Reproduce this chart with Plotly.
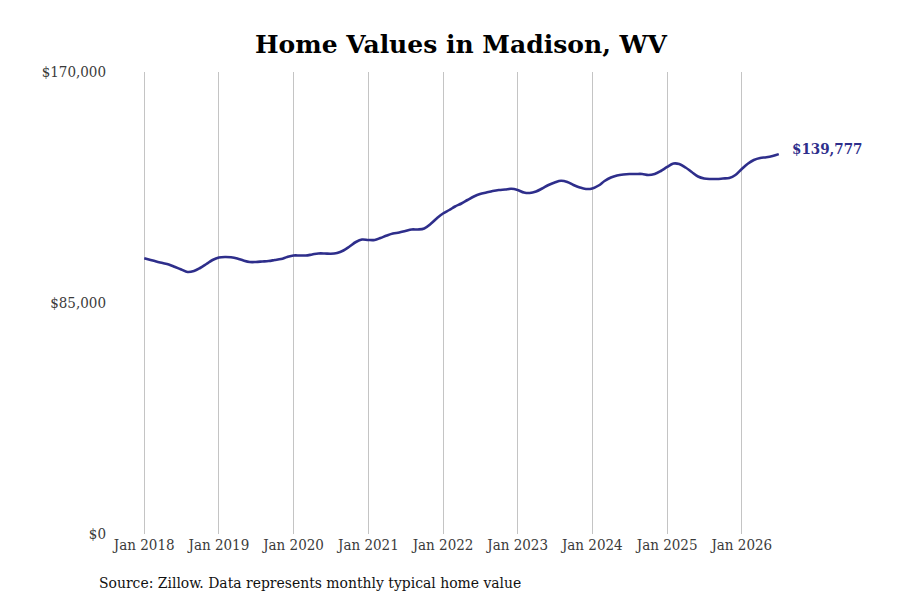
import pandas as pd
import plotly.graph_objects as go

# monthly typical home value, Jan 2018 .. Jul 2026
start_month = '2018-01-01'
home_values = [
    101450, 100820, 100270, 99720, 99170, 98250, 97330, 96410, 96780, 97880, 99350, 100820,
    101740, 101930, 101820, 101380, 100640, 100090, 100090, 100270, 100460, 100820, 101190, 101930,
    102480, 102480, 102480, 102850, 103220, 103220, 103100, 103400, 104320, 105790, 107450, 108370,
    108180, 108180, 108920, 109840, 110580, 110940, 111500, 112050, 112050, 112420, 114070, 116100,
    117930, 119220, 120510, 121610, 122900, 124190, 125110, 125660, 126210, 126580, 126770, 127020,
    126580, 125660, 125480, 126030, 127130, 128420, 129340, 130000, 129530, 128420, 127500, 126950,
    127130, 128240, 129890, 131180, 131920, 132290, 132470, 132470, 132470, 132100, 132470, 133570,
    135050, 136330, 136150, 134860, 133210, 131550, 130810, 130630, 130630, 130810, 131000, 132100,
    134310, 136330, 137620, 138360, 138620, 139090, 139777,
]
y_ticks = [0, 85000, 170000]
y_tick_labels = ['$0', '$85,000', '$170,000']
x_ticks = pd.date_range('2018-01-01', '2026-01-01', freq='YS')

line_color = '#2e2e8b'
font_name = 'DejaVu Serif Condensed, DejaVu Serif, serif'
tick_font = dict(family=font_name, size=15, color='#3a3a3a')

def main():
    dates = pd.date_range(start_month, periods=len(home_values), freq='MS')
    fig = go.Figure()
    fig.add_trace(go.Scatter(x=dates, y=home_values, mode='lines',
                             line=dict(color=line_color, width=2.6, shape='spline'),
                             hoverinfo='skip'))

    # label for the latest value
    fig.add_annotation(x=dates[-1], y=home_values[-1], text='<b>$%s</b>' % format(home_values[-1], ','),
                       showarrow=False, xanchor='left', xshift=11, yshift=5,
                       font=dict(color=line_color, size=15, family=font_name))

    fig.add_annotation(x=0, xref='paper', y=-0.105, yref='paper', text='Source: Zillow. Data represents monthly typical home value',
                       showarrow=False, xanchor='left', xshift=-18, yanchor='middle',
                       font=dict(color='#111', size=15.5, family=font_name))

    # the page body adds an 8px offset, margins account for it
    fig.update_layout(
        width=900, height=600,
        paper_bgcolor='white', plot_bgcolor='white',
        margin=dict(l=107, r=101, t=64, b=74),
        showlegend=False,
        font=dict(family=font_name, size=15, color='#3a3a3a'),
        title=dict(text='<b>Home Values in Madison, WV</b>', x=0.5, xref='paper', y=0.94, yanchor='middle',
                   font=dict(family='DejaVu Serif', size=25, color='black')),
        xaxis=dict(range=['2017-08-11', '2026-11-16'], tickvals=x_ticks, ticktext=[d.strftime('Jan %Y') for d in x_ticks],
                   showgrid=True, gridcolor='#c4c4c4', gridwidth=1, zeroline=False, showline=False, ticks='',
                   tickfont=tick_font),
        yaxis=dict(range=[0, 170000], tickvals=y_ticks, ticktext=y_tick_labels, showgrid=False,
                   zeroline=False, showline=False, ticks='', ticklabelstandoff=8, tickfont=tick_font),
    )
    fig.write_html('out.html')

if __name__ == '__main__':
    main()
